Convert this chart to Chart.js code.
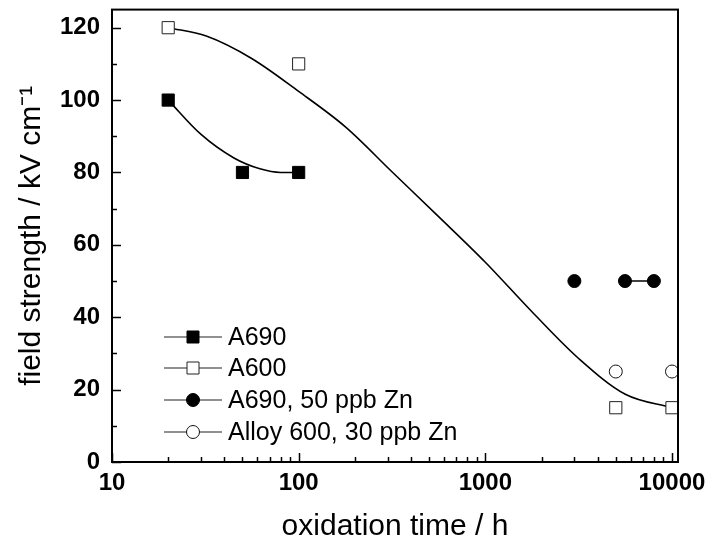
<!DOCTYPE html>
<html>
<head>
<meta charset="utf-8">
<script src="https://cdn.jsdelivr.net/npm/chart.js@4.4.1/dist/chart.umd.min.js"></script>
<style>
  html, body { margin: 0; padding: 0; background: #fff; }
  #wrap { width: 705px; height: 545px; }
</style>
</head>
<body>
<div id="wrap"><canvas id="c" width="705" height="545"></canvas></div>
<script>
// ---- data ----
const a690X = [20, 50, 100];
const a690Y = [100, 80, 80];
const a600X = [20, 100, 5000, 10000];
const a600Y = [120, 110, 15, 15];
const a690ZnX = [3000, 5600, 8000];
const a690ZnY = [50, 50, 50];
const a600ZnX = [5000, 10000];
const a600ZnY = [25, 25];
// fitted curves
const a690FitX = [20, 30, 45, 62, 80, 100];
const a690FitY = [100, 90.5, 84, 81, 80, 80];
const a600FitX = [20, 32, 56, 100, 178, 316, 562, 1000, 1778, 3162, 5623, 10000];
const a600FitY = [120, 117.7, 111.5, 102.4, 92.6, 80.2, 67.8, 55.2, 41.5, 28.6, 18.7, 15];
const a690ZnLineX = [5600, 8000];
const a690ZnLineY = [50, 50];
// axis
const xMin = 10, xMax = 10770;
const yMin = 0, yMax = 125;
const seriesNames = ['A690', 'A600', 'A690, 50 ppb Zn', 'Alloy 600, 30 ppb Zn'];
const xTitle = 'oxidation time / h';
const yTitle = 'field strength / kV cm\u207B\u00B9';

const FONT = "'Liberation Sans', Arial, Helvetica, sans-serif";
const pts = (xs, ys) => xs.map((x, i) => ({ x: x, y: ys[i] }));

const markerStyles = [
  { style: 'rect', fill: '#000', stroke: '#000' },
  { style: 'rect', fill: '#fff', stroke: '#222' },
  { style: 'circle', fill: '#000', stroke: '#000' },
  { style: 'circle', fill: '#fff', stroke: '#111' }
];

function pointDs(label, xs, ys, m) {
  return {
    type: 'scatter', label: label, data: pts(xs, ys), showLine: false,
    pointStyle: m.style, pointRadius: m.style === 'rect' ? 8.6 : 6.5,
    pointBackgroundColor: m.fill, pointBorderColor: m.stroke, pointBorderWidth: 1,
    pointHoverRadius: m.style === 'rect' ? 8.6 : 6.5,
    order: 1, clip: false
  };
}
function lineDs(xs, ys) {
  return {
    type: 'line', label: '_fit', data: pts(xs, ys), borderColor: '#000', borderWidth: 1.6,
    pointRadius: 0, pointHoverRadius: 0, fill: false, cubicInterpolationMode: 'monotone', order: 2
  };
}

const ticksPlugin = {
  id: 'frameTicksLegend',
  afterDraw(chart) {
    const ctx = chart.ctx;
    const a = chart.chartArea;
    const xs = chart.scales.x, ys = chart.scales.y;
    ctx.save();
    ctx.strokeStyle = '#000';
    ctx.lineWidth = 1.5;
    xs.ticks.forEach(t => {
      const l = Math.log10(t.value);
      const major = Math.abs(l - Math.round(l)) < 1e-9;
      const px = Math.round(xs.getPixelForValue(t.value)) + 0.5;
      ctx.beginPath();
      ctx.moveTo(px, a.bottom);
      ctx.lineTo(px, a.bottom - (major ? 9 : 5));
      ctx.stroke();
    });
    ys.ticks.forEach(t => {
      const major = t.value % 20 === 0;
      const py = Math.round(ys.getPixelForValue(t.value)) + 0.5;
      ctx.beginPath();
      ctx.moveTo(a.left, py);
      ctx.lineTo(a.left + (major ? 9 : 5), py);
      ctx.stroke();
    });
    ctx.lineWidth = 2;
    ctx.strokeRect(a.left, a.top, a.right - a.left, a.bottom - a.top);
    // legend
    const rows = [125, 94, 62, 30];
    const lx0 = a.left + 52, lx1 = a.left + 110, mx = a.left + 81;
    ctx.font = '25px ' + FONT;
    ctx.textBaseline = 'middle';
    ctx.textAlign = 'left';
    rows.forEach((off, i) => {
      const y = a.bottom - off;
      ctx.strokeStyle = '#222';
      ctx.lineWidth = 1.2;
      ctx.beginPath();
      ctx.moveTo(lx0, y); ctx.lineTo(lx1, y); ctx.stroke();
      const m = markerStyles[i];
      ctx.fillStyle = m.fill; ctx.strokeStyle = m.stroke; ctx.lineWidth = 1;
      ctx.beginPath();
      if (m.style === 'rect') { ctx.rect(mx - 6, y - 6, 12, 12); }
      else { ctx.arc(mx, y, 6.5, 0, Math.PI * 2); }
      ctx.fill(); ctx.stroke();
      ctx.fillStyle = '#000';
      ctx.fillText(seriesNames[i], a.left + 116, y + 1);
    });
    ctx.restore();
  }
};

new Chart(document.getElementById('c'), {
  data: {
    datasets: [
      pointDs(seriesNames[0], a690X, a690Y, markerStyles[0]),
      pointDs(seriesNames[1], a600X, a600Y, markerStyles[1]),
      pointDs(seriesNames[2], a690ZnX, a690ZnY, markerStyles[2]),
      pointDs(seriesNames[3], a600ZnX, a600ZnY, markerStyles[3]),
      lineDs(a690FitX, a690FitY),
      lineDs(a600FitX, a600FitY),
      lineDs(a690ZnLineX, a690ZnLineY)
    ]
  },
  options: {
    responsive: false,
    animation: false,
    events: [],
    layout: { padding: { top: 8, right: 27, left: 0, bottom: 0 } },
    plugins: { legend: { display: false }, tooltip: { enabled: false } },
    scales: {
      x: {
        type: 'logarithmic', min: xMin, max: xMax,
        grid: { display: true, drawOnChartArea: false, drawTicks: false },
        border: { display: false },
        afterBuildTicks(scale) {
          scale.ticks = scale.ticks.filter(t => {
            const e = Math.floor(Math.log10(t.value) + 1e-9);
            const m = t.value / Math.pow(10, e);
            return Math.abs(m - Math.round(m)) < 1e-6 && t.value >= xMin && t.value <= xMax;
          });
        },
        afterFit(scale) { scale.height = 83; scale.paddingLeft = 0; scale.paddingRight = 0; },
        ticks: {
          autoSkip: false, maxRotation: 0, padding: 7, color: '#000',
          font: { family: FONT, size: 24, weight: 'bold' },
          callback(v) {
            const l = Math.log10(v);
            return Math.abs(l - Math.round(l)) < 1e-9 ? String(Math.round(v)) : '';
          }
        },
        title: { display: true, text: xTitle, color: '#000', font: { family: FONT, size: 30 }, padding: { top: 0, bottom: 0 } }
      },
      y: {
        type: 'linear', min: yMin, max: yMax,
        grid: { display: true, drawOnChartArea: false, drawTicks: false },
        border: { display: false },
        afterFit(scale) { scale.width = 112; scale.paddingTop = 0; scale.paddingBottom = 0; },
        ticks: {
          stepSize: 10, includeBounds: false, autoSkip: false, padding: 12, color: '#000',
          font: { family: FONT, size: 24, weight: 'bold' },
          callback(v) { return v % 20 === 0 ? String(v) : ''; }
        },
        title: { display: true, text: yTitle, color: '#000', font: { family: FONT, size: 30 }, padding: { top: 14, bottom: 0 } }
      }
    }
  },
  plugins: [ticksPlugin]
});
</script>
</body>
</html>
